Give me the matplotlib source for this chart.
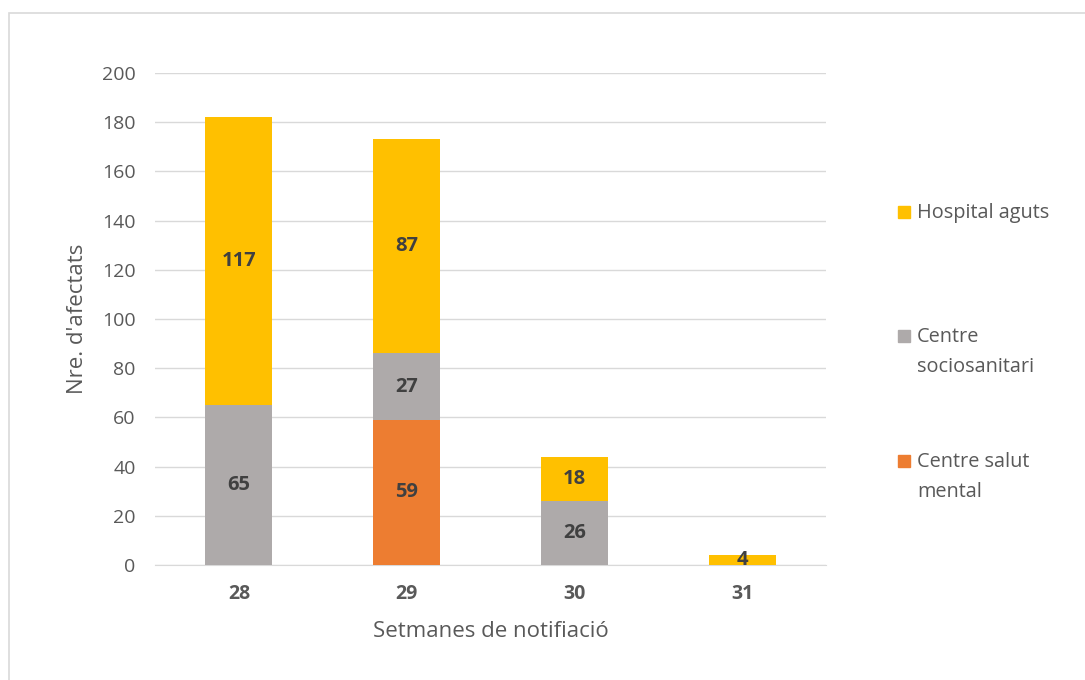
import numpy as np
import matplotlib.pyplot as plt
from matplotlib.patches import Rectangle

# dades de la grafica
setmanes = ['28', '29', '30', '31']
salut_mental = [0, 59, 0, 0]
sociosanitari = [65, 27, 26, 0]
hospital = [117, 87, 18, 4]

series = [
    ('Centre salut\nmental', salut_mental, '#ED7D31'),
    ('Centre\nsociosanitari', sociosanitari, '#AEAAAA'),
    ('Hospital aguts', hospital, '#FFC000'),
]

plt.rcParams['font.family'] = ['Open Sans', 'DejaVu Sans']

fig = plt.figure(figsize=(10.85, 6.8), dpi=100)
ax = fig.add_axes([0.1429, 0.1691, 0.6184, 0.7235])

# marc exterior
fig.patches.append(Rectangle((9 / 1085, -0.1), 1.2, 1 - 13 / 680 + 0.1,
                             transform=fig.transFigure, fill=False,
                             edgecolor='#D9D9D9', linewidth=1.2))

x = np.arange(len(setmanes))
bottom = np.zeros(len(setmanes))
for name, vals, col in series:
    vals = np.array(vals, dtype=float)
    ax.bar(x, vals, 0.4, bottom=bottom, color=col, zorder=3)
    for xi, v, b in zip(x, vals, bottom):
        if v > 0:
            ax.text(xi, b + v / 2, str(int(v)), ha='center', va='center',
                    fontsize=14.5, fontweight='bold', color='#404040', zorder=4)
    bottom += vals

ax.set_xlim(-0.5, 3.5)
ax.set_ylim(0, 200)
ax.set_yticks(range(0, 201, 20))
ax.set_xticks(x)
ax.set_xticklabels(setmanes, fontweight='bold')
ax.tick_params(axis='both', length=0, labelsize=14, colors='#595959')
ax.tick_params(axis='x', pad=14)
ax.tick_params(axis='y', pad=14)
ax.grid(axis='y', color='#D9D9D9', linewidth=1, zorder=0)
for s in ['top', 'right', 'left']:
    ax.spines[s].set_visible(False)
ax.spines['bottom'].set_color('#D9D9D9')

ax.set_xlabel('Setmanes de notifiació', fontsize=16, color='#595959', labelpad=12)
ax.set_ylabel("Nre. d'afectats", fontsize=16, color='#595959', labelpad=10)

# llegenda
leg_y = [212, 336, 461]
for (name, vals, col), yy in zip(reversed(series), leg_y):
    fy = 1 - yy / 680
    fig.patches.append(Rectangle((898 / 1085, fy - 6 / 680), 12 / 1085, 12 / 680,
                                 transform=fig.transFigure, color=col))
    fig.text(917 / 1085, fy + 9 / 680, name, ha='left', va='top',
             fontsize=14.3, color='#595959', linespacing=1.65)

fig.savefig('out.png', dpi=100)
